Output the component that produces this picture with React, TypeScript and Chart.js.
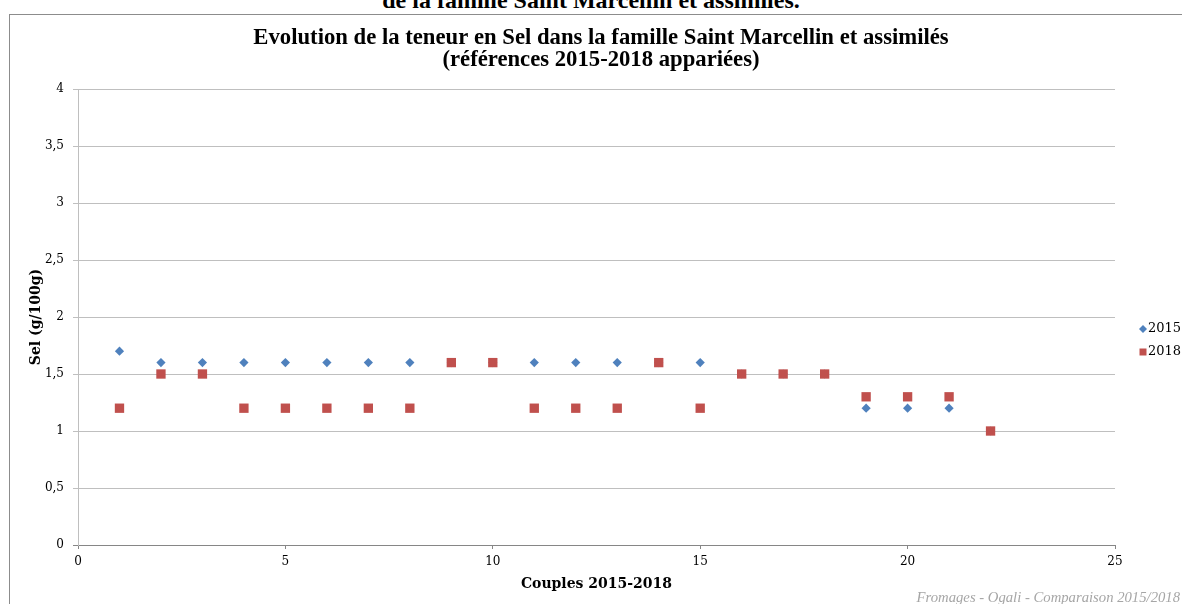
import React, { useEffect, useRef } from "react";
import { Chart, registerables } from "chart.js";

Chart.register(...registerables);

// Paired references 2015 / 2018, salt content in g/100g
const couples = [1, 2, 3, 4, 5, 6, 7, 8, 9, 10, 11, 12, 13, 14, 15, 16, 17, 18, 19, 20, 21, 22];
const sel2015 = [1.7, 1.6, 1.6, 1.6, 1.6, 1.6, 1.6, 1.6, 1.6, 1.6, 1.6, 1.6, 1.6, 1.6, 1.6, 1.5, 1.5, 1.5, 1.2, 1.2, 1.2, 1.0];
const sel2018 = [1.2, 1.5, 1.5, 1.2, 1.2, 1.2, 1.2, 1.2, 1.6, 1.6, 1.2, 1.2, 1.2, 1.6, 1.2, 1.5, 1.5, 1.5, 1.3, 1.3, 1.3, 1.0];
const seriesLabels = ["2015", "2018"];
const xTicks = [0, 5, 10, 15, 20, 25];
const yTicks = [0, 0.5, 1, 1.5, 2, 2.5, 3, 3.5, 4];

const titleLines = [
  "Evolution de la teneur en Sel dans la famille Saint Marcellin et assimilés",
  "(références 2015-2018 appariées)",
];
const footerText = "Fromages - Ogali - Comparaison 2015/2018";

const BLUE = "#4F81BD";
const RED = "#C0504D";
const SERIF = "'DejaVu Serif', serif";

// Title, side legend and source note, drawn on the chart canvas
const decorations = {
  id: "decorations",
  afterDraw(chart: any) {
    const ctx = chart.ctx as CanvasRenderingContext2D;
    ctx.save();

    ctx.fillStyle = "#000";
    ctx.font = `bold 22.7px 'Liberation Serif', serif`;
    ctx.textAlign = "center";
    ctx.textBaseline = "middle";
    titleLines.forEach((line, i) => ctx.fillText(line, 601, 38 + i * 22.5));

    const rows = [329, 352];
    chart.data.datasets.forEach((ds: any, i: number) => {
      const y = rows[i];
      const x = 1143;
      ctx.fillStyle = ds.backgroundColor;
      ctx.beginPath();
      if (ds.pointStyle === "rectRot") {
        ctx.moveTo(x, y - 4);
        ctx.lineTo(x + 4, y);
        ctx.lineTo(x, y + 4);
        ctx.lineTo(x - 4, y);
        ctx.closePath();
      } else {
        ctx.rect(x - 3.5, y - 3.5, 7, 7);
      }
      ctx.fill();
      ctx.fillStyle = "#000";
      ctx.font = `13px ${SERIF}`;
      ctx.textBaseline = "middle";
      ctx.textAlign = "left";
      ctx.fillText(ds.label, 1148, y);
    });

    ctx.font = `italic 14.7px 'Liberation Serif', serif`;
    ctx.fillStyle = "#A6A6A6";
    ctx.textAlign = "right";
    ctx.textBaseline = "alphabetic";
    ctx.fillText(footerText, 1180, 602);
    ctx.restore();
  },
};

export default function App() {
  const canvasRef = useRef<HTMLCanvasElement | null>(null);

  useEffect(() => {
    if (!canvasRef.current) return;
    const chart = new Chart(canvasRef.current, {
      type: "scatter",
      data: {
        datasets: [
          {
            label: seriesLabels[0],
            data: couples.map((c, i) => ({ x: c, y: sel2015[i] })),
            pointStyle: "rectRot",
            pointRadius: 4.6,
            backgroundColor: BLUE,
            borderColor: BLUE,
            borderWidth: 0,
            order: 2,
          },
          {
            label: seriesLabels[1],
            data: couples.map((c, i) => ({ x: c, y: sel2018[i] })),
            pointStyle: "rect",
            pointRadius: 6.6,
            backgroundColor: RED,
            borderColor: RED,
            borderWidth: 0,
            order: 1,
          },
        ],
      },
      options: {
        responsive: false,
        animation: false,
        events: [],
        layout: { padding: { left: 0, right: 67, top: 89, bottom: 0 } },
        plugins: {
          legend: { display: false },
          tooltip: { enabled: false },
          title: { display: false },
        },
        scales: {
          x: {
            type: "linear",
            min: xTicks[0],
            max: xTicks[xTicks.length - 1],
            afterFit: (s: any) => {
              s.height = 59;
            },
            afterBuildTicks: (s: any) => {
              s.ticks = xTicks.map((v) => ({ value: v }));
            },
            ticks: {
              color: "#000",
              font: { family: SERIF, size: 12 },
              padding: 6,
              maxRotation: 0,
            },
            grid: { drawOnChartArea: false, color: "#868686", tickLength: 4 },
            border: { color: "#868686" },
            title: {
              display: true,
              text: "Couples 2015-2018",
              color: "#000",
              font: { family: SERIF, size: 14, weight: "bold", lineHeight: 1.2 },
              padding: { top: 0, bottom: 11 },
            },
          },
          y: {
            type: "linear",
            min: yTicks[0],
            max: yTicks[yTicks.length - 1],
            afterFit: (s: any) => {
              s.width = 78;
            },
            afterBuildTicks: (s: any) => {
              s.ticks = yTicks.map((v) => ({ value: v }));
            },
            ticks: {
              color: "#000",
              font: { family: SERIF, size: 12 },
              padding: 9,
              callback: (v: any) => String(v).replace(".", ","),
            },
            grid: {
              color: (c: any) => (c.tick && c.tick.value === 0 ? "#868686" : "#BFBFBF"),
              tickLength: 5,
            },
            border: { color: "#BFBFBF" },
            title: {
              display: true,
              text: "Sel (g/100g)",
              color: "#000",
              font: { family: SERIF, size: 14, weight: "bold", lineHeight: 1.2 },
              padding: { top: 28, bottom: 0 },
            },
          },
        },
      },
      plugins: [decorations],
    });
    return () => chart.destroy();
  }, []);

  return (
    <div
      style={{
        position: "absolute",
        left: 0,
        top: 0,
        width: 1182,
        height: 604,
        overflow: "hidden",
        background: "#fff",
      }}
    >
      <div
        style={{
          position: "absolute",
          left: 0,
          top: -12,
          width: 1182,
          textAlign: "center",
          fontFamily: "'Liberation Serif', serif",
          fontWeight: "bold",
          fontSize: 24,
          lineHeight: "24px",
          color: "#000",
        }}
      >
        de la famille Saint Marcellin et assimilés.
      </div>
      <div
        style={{
          position: "absolute",
          left: 9,
          top: 14,
          width: 1200,
          height: 620,
          border: "1px solid #8C8C8C",
        }}
      />
      <canvas
        ref={canvasRef}
        width={1182}
        height={604}
        style={{ position: "absolute", left: 0, top: 0 }}
      />
    </div>
  );
}
